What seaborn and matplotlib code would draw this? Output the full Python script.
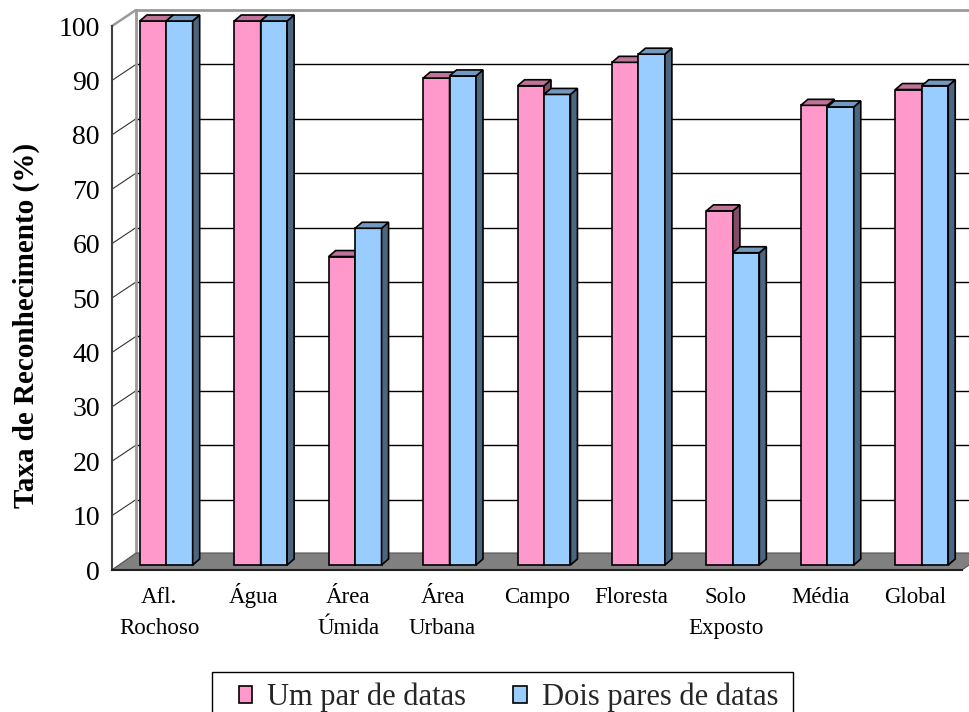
import matplotlib
matplotlib.use("Agg")
import matplotlib.pyplot as plt
from matplotlib.patches import Polygon, Patch, Rectangle
from matplotlib.transforms import ScaledTranslation, blended_transform_factory
import pandas as pd
import seaborn as sns

# ---- data -------------------------------------------------------------
categories = ["Afl.\nRochoso", "Água", "Área\nÚmida", "Área\nUrbana", "Campo",
              "Floresta", "Solo\nExposto", "Média", "Global"]
um_par = [100, 100, 56.7, 89.5, 88.1, 92.4, 65.1, 84.5, 87.4]
dois_pares = [100, 100, 61.9, 89.9, 86.5, 93.9, 57.4, 84.2, 88.1]
series_names = ["Um par de datas", "Dois pares de datas"]
y_ticks = list(range(0, 101, 10))
y_label = "Taxa de Reconhecimento (%)"

# ---- colours (front, top and side faces of the boxes) -----------------
front_colors = ["#FF99CC", "#99CCFF"]
top_colors = ["#BF7399", "#7399BF"]
side_colors = ["#804C66", "#4C6680"]
floor_color = "#808080"
wall_color = "#9A9A9A"

sns.set_style("white")
plt.rcParams["font.family"] = ["Liberation Serif", "DejaVu Serif"]

W, H, DPI = 970, 712, 100
fig = plt.figure(figsize=(W / DPI, H / DPI), dpi=DPI)
fig.patch.set_facecolor("white")

# front plane of the plot box (pixels)
x_left, x_right, y_top, y_bot = 112, 962, 26, 570
ax = fig.add_axes([x_left / W, 1 - y_bot / H,
                   (x_right - x_left) / W, (y_bot - y_top) / H])
ax.patch.set_alpha(0)

df = pd.DataFrame({
    "categoria": categories * 2,
    "serie": [series_names[0]] * len(categories) + [series_names[1]] * len(categories),
    "taxa": um_par + dois_pares,
})

sns.barplot(data=df, x="categoria", y="taxa", hue="serie", order=categories,
            hue_order=series_names, palette=front_colors, width=0.56, gap=0,
            edgecolor="black", linewidth=1.2, saturation=1, errorbar=None,
            legend=False, ax=ax)

n = len(categories)
ax.set_xlim(-0.5, n - 0.5)
ax.set_ylim(0, 100)

# pixel -> data conversion factors
kx = (x_right - x_left) / n
ky = (y_bot - y_top) / 100.0

# depth of the back wall / floor and of each box
wall_dx, wall_dy = 24 / kx, 16 / ky
floor_dy = 17 / ky
box_dx, box_dy = 7 / kx, 6 / ky
bar_trans = ax.transData + ScaledTranslation(7 / DPI, 5 / DPI, fig.dpi_scale_trans)

# floor
x0, x1 = -0.5, n - 0.5
ax.add_patch(Polygon([(x0, 0), (x1, 0), (x1 + wall_dx, floor_dy), (x0 + wall_dx, floor_dy)],
                     closed=True, fc=floor_color, ec="#555555", lw=0.8,
                     zorder=1.5, clip_on=False))

# back wall gridlines and the connectors to the value axis
for v in y_ticks[1:-1]:
    ax.plot([x0 + wall_dx, x1 + wall_dx + 0.5], [v + wall_dy] * 2, color="black",
            lw=1.0, clip_on=False, zorder=1)
for v in y_ticks[:-1]:
    ax.plot([x0, x0 + wall_dx], [v, v + wall_dy], color="#333333", lw=0.8,
            clip_on=False, zorder=1)
ax.plot([x0, x0 + wall_dx], [100, 100 + wall_dy], color=wall_color, lw=1.8,
        clip_on=False, zorder=1)
ax.plot([x0 + wall_dx, x1 + wall_dx + 0.5], [100 + wall_dy] * 2, color=wall_color,
        lw=2.0, clip_on=False, zorder=1)
ax.plot([x0 + wall_dx] * 2, [floor_dy, 100 + wall_dy], color=wall_color, lw=2.0,
        clip_on=False, zorder=1)

# give every bar a top and a side face
for i, cont in enumerate(ax.containers):
    z = 3 + i
    for p in cont.patches:
        p.set_transform(bar_trans)
        p.set_zorder(z)
        p.set_clip_on(False)
        bx, bw, bh = p.get_x(), p.get_width(), p.get_height()
        top = Polygon([(bx, bh), (bx + bw, bh), (bx + bw + box_dx, bh + box_dy),
                       (bx + box_dx, bh + box_dy)], closed=True,
                      fc=top_colors[i], ec="black", lw=1.2, zorder=z,
                      transform=bar_trans, clip_on=False, joinstyle="miter")
        side = Polygon([(bx + bw, 0), (bx + bw + box_dx, box_dy),
                        (bx + bw + box_dx, bh + box_dy), (bx + bw, bh)], closed=True,
                       fc=side_colors[i], ec="black", lw=1.2, zorder=z,
                       transform=bar_trans, clip_on=False, joinstyle="miter")
        ax.add_patch(side)
        ax.add_patch(top)

# axes styling
for s in ["top", "right"]:
    ax.spines[s].set_visible(False)
ax.spines["left"].set_color("#404040")
ax.spines["left"].set_linewidth(1.5)
ax.spines["bottom"].set_color("#202020")
ax.spines["bottom"].set_linewidth(1.5)
ax.spines["bottom"].set_zorder(6)

ax.set_yticks(y_ticks)
ax.set_yticklabels([str(v) for v in y_ticks])
ax.tick_params(axis="y", direction="out", length=6.5, width=1.0, color="#404040",
               labelsize=20, pad=2.2, labelcolor="black")

# category labels: one text per line, all lines sharing common baselines
ax.set_xticks(range(n))
ax.set_xticklabels([""] * n)
ax.set_xticks([i - 0.5 for i in range(n + 1)], minor=True)
ax.tick_params(axis="x", which="major", length=0)
ax.tick_params(axis="x", which="minor", direction="out", length=6, width=1.0,
               color="#303030")
ax.set_xlabel("")
blend = blended_transform_factory(ax.transData, ax.transAxes)
for xpos, cat in zip(ax.get_xticks(), categories):
    for j, line in enumerate(cat.split("\n")):
        off = ScaledTranslation(0, -(33 + 31 * j) / DPI, fig.dpi_scale_trans)
        ax.text(xpos, 0, line, transform=blend + off, ha="center", va="baseline",
                fontsize=16.5, color="black", clip_on=False)

ax.set_ylabel(y_label, fontsize=21, fontweight="bold", color="black")
ax.yaxis.set_label_coords(-0.0847, 0.45)

# legend (entries) and its frame
handles = [Patch(facecolor=c, edgecolor="black", linewidth=1.2) for c in front_colors]
leg = fig.legend(handles, series_names, loc="upper left",
                 bbox_to_anchor=(239 / W, 1 - 683 / H), ncol=2, fontsize=22,
                 frameon=False, handlelength=0.43, handleheight=0.49,
                 handletextpad=0.49, columnspacing=1.55, borderpad=0,
                 borderaxespad=0)
fig.add_artist(Rectangle((212 / W, -0.05), (793 - 212) / W, (712 - 672) / H + 0.05,
                         transform=fig.transFigure, fill=False, ec="black", lw=1.0))

fig.savefig("out.png", dpi=DPI, facecolor="white")
